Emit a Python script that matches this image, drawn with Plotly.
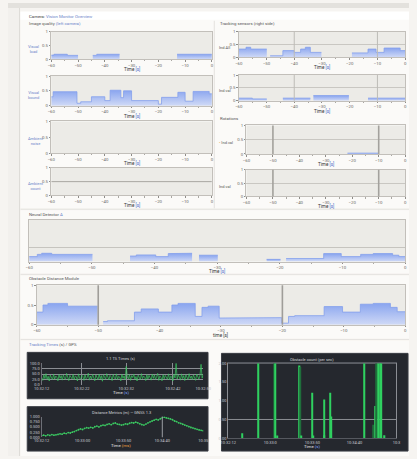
import plotly.graph_objects as go

W, H = 417, 459
FONT = "Roboto"

# ---------------- data ----------------
TIME_RANGE = [-60, 0]

L1_EDGES = [-60, -59, -54, -50, -44.5, -43, -34.5, -13, 0]
L1_VALS = [0.15, 0.18, 0.14, None, 0.14, 0.18, None, 0.18]

L2_EDGES = [-60, -59.3, -50.4, -49, -45, -40, -38, -34, -33, -30, -20, -18.8, -12.7, -10, -7, -1, 0]
L2_VALS = [0.3, 0.47, 0.08, 0.13, 0.3, 0.17, 0.52, 0.27, 0.5, 0.17, 0.05, 0.28, 0.45, 0.15, 0.48, 0.4]

L4_EDGES = [-60, 0]
L4_VALS = [0.5]

R1_EDGES = [-60, -57.4, -55.7, -49.9, -48.7, -44.1, -40, -37.7, -36, -34.2, -30.2, -19.2, -13.4, -10.5, -7.6, -1.8, 0]
R1_VALS = [0.32, 0.39, 0.32, None, 0.06, 0.26, 0.19, 0.32, 0.39, 0.19, None, 0.17, 0.32, 0.19, 0.36, 0.26]

R2_EDGES = [-60, -55.1, -49.9, -44.1, -34.2, -33.1, -20.3, -13.4, 0]
R2_VALS = [0.1, 0.07, None, 0.1, None, 0.2, None, 0.1]

R3_EDGES = [-60, -21.8, -10, 0]
R3_VALS = [None, 0.03, None]

W1_EDGES = [-60, -58.7, -58, -56.4, -49.9, -43.9, -42.9, -39.8, -37.8, -35.7, -34, -32.9,
            -29.9, -22.1, -19.9, -19, -13, -10.2, -7.1, -5.1, -2, -1, 0]
W1_VALS = [0.18, 0.26, 0.30, 0.26, None, 0.2, 0.24, 0.18, 0.29, 0.30, None, 0.23,
           None, 0.08, None, 0.11, 0.29, 0.18, 0.26, 0.29, 0.23, 0.18]

W2_EDGES = [-60, -59, -58.2, -55, -50.1, -49.2, -48.5, -44.1, -43, -40.2, -38, -37, -34.2,
            -33.1, -32.1, -30.3, -21.4, -20.1, -19, -18, -13.2, -10.2, -7.3, -5.2, -2.4, -1.3, 0]
W2_VALS = [0.32, 0.5, 0.54, 0.47, None, 0.08, 0.1, 0.32, 0.4, 0.32, 0.5, 0.54, 0.21,
           0.44, 0.47, 0.17, 0.18, 0.04, 0.21, 0.23, 0.46, 0.32, 0.52, 0.54, 0.44, 0.33]

R1_MARKERS = [-40, -10]
R34_MARKERS = [-50, -10]
W2_MARKERS = [-50, -20]

D1_VALS = [34, 21, 47, 29, 52, 26, 40, 18, 45, 31, 24, 50, 27, 41, 36, 19, 48, 30, 43, 22,
           46, 33, 25, 53, 38, 20, 44, 35, 28, 49, 23, 42, 37, 18, 51, 30, 26, 45, 39, 21,
           47, 29, 34, 54, 22, 41, 27, 49, 32, 19, 46, 36, 24, 50, 28, 43, 17, 47, 35, 26,
           52, 31, 23, 44, 38, 20, 48, 33, 27, 51, 25, 40, 36, 19, 49, 30, 42, 24, 85, 37,
           28, 47, 21, 43, 34, 50, 26, 39, 18, 45, 32, 24, 52, 29, 41, 36, 20, 48, 27, 44,
           33, 22, 50, 30, 46, 25, 38, 53, 21, 42, 35, 19, 47, 28, 44, 31, 26, 51, 23, 40,
           37, 18, 49, 32, 100, 27, 45, 36, 22, 51, 29, 43, 20, 47, 34, 25, 52, 30, 41, 24,
           46, 33, 21, 50, 38, 27, 44, 95, 31, 48]
D1_TICK_POS = [0, 37, 78, 121, 149]
D1_TICK_TEXT = ["10:32:12", "10:32:22", "10:32:32", "10:32:42", "10:32:50"]
D1_Y_TICKS = [0, 25, 50, 75, 100]
D1_Y_TEXT = ["0.0", "25.0", "50.0", "75.0", "100.0"]

D2_VALS = [0.08, 0.10, 0.07, 0.12, 0.09, 0.13, 0.10, 0.12,
           0.14, 0.17, 0.15, 0.20, 0.18, 0.23, 0.21, 0.25,
           0.28, 0.33, 0.37, 0.41, 0.38, 0.44, 0.47, 0.45,
           0.49, 0.46, 0.52, 0.55, 0.51, 0.57, 0.60, 0.58,
           0.63, 0.66, 0.62, 0.68, 0.70, 0.65, 0.63, 0.60,
           0.62, 0.66, 0.64, 0.69, 0.72, 0.70, 0.74, 0.71,
           0.66, 0.62, 0.60, 0.65, 0.71, 0.76, 0.80, 0.84,
           0.88, 0.85, 0.91, 0.97, 0.99, 0.95, 0.93, 0.90,
           0.86, 0.80, 0.77, 0.71, 0.68, 0.64, 0.60, 0.56,
           0.52, 0.48, 0.45, 0.42, 0.39, 0.36, 0.34, 0.32]
D2_TICK_POS = [0, 20, 40, 59, 79]
D2_TICK_TEXT = ["10:32:12", "10:33:00", "10:33:50", "10:34:40", "10:35"]
D2_MARKER = 59
D2_Y_TICKS = [0, 0.25, 0.5, 0.75, 1]
D2_Y_TEXT = ["0.000", "0.250", "0.500", "0.750", "1.000"]

D3_T = [8.2, 18.1, 27.4, 28.2, 28.9, 42.5, 43.0, 43.6, 50.1, 50.6, 56.8, 57.2, 60.6, 61.1,
        81.1, 86.3, 87.2, 88.2, 89.1, 90.1, 90.7, 93.0]
D3_V = [0.13, 2.0, 2.0, 2.0, 0.07, 1.94, 1.9, 0.07, 1.21, 0.07, 1.03, 0.08, 1.21, 0.58,
        2.0, 0.36, 0.86, 2.0, 2.0, 2.0, 2.0, 0.08]
D3_BRIGHT = [1, 1, 0, 1, 1, 1, 0, 1, 1, 1, 1, 1, 1, 1,
             1, 0, 1, 0, 1, 1, 1, 1]
D3_TICK_POS = [0, 25, 50, 75, 100]
D3_TICK_TEXT = ["10:32:12", "10:33:0", "10:33:50", "10:34:40", "10:3"]
D3_Y_TICKS = [0, 0.5, 1, 1.5, 2]
D3_Y_TEXT = ["0.00", "0.50", "1.00", "1.50", "2.00"]
D3_GRID = [0.5, 2.0]


# ---------------- helpers ----------------
def dx(x0, x1):
    return [x0 / W, x1 / W]


def dy(y0, y1):
    return [1 - y1 / H, 1 - y0 / H]


def step_segments(edges, vals):
    """Split a step series into contiguous runs (gaps where value is None)."""
    runs, xs, ys = [], [], []
    for i, v in enumerate(vals):
        if v is None:
            if xs:
                runs.append((xs, ys))
            xs, ys = [], []
        else:
            xs += [edges[i], edges[i + 1]]
            ys += [v, v]
    if xs:
        runs.append((xs, ys))
    return runs


fig = go.Figure()
layout = {}
shapes = []
annotations = []
counter = [0]


def new_axes(xbox, ybox, xcfg, ycfg):
    counter[0] += 1
    n = counter[0]
    xs = "" if n == 1 else str(n)
    layout["xaxis" + xs] = dict(domain=dx(*xbox), anchor="y" + xs, **xcfg)
    layout["yaxis" + xs] = dict(domain=dy(*ybox), anchor="x" + xs, **ycfg)
    return "x" + xs, "y" + xs


def rect(x0, y0, x1, y1, fill, line=None, lw=0):
    shapes.append(dict(type="rect", xref="paper", yref="paper", layer="below",
                       x0=x0 / W, x1=x1 / W, y0=1 - y1 / H, y1=1 - y0 / H,
                       fillcolor=fill, line=dict(color=line or fill, width=lw)))


def pline(x0, y0, x1, y1, color, w=1):
    shapes.append(dict(type="line", xref="paper", yref="paper", layer="below",
                       x0=x0 / W, x1=x1 / W, y0=1 - y0 / H, y1=1 - y1 / H,
                       line=dict(color=color, width=w)))


def note(text, x, y, size=5, color="#444", xanchor="left", yanchor="middle", family=FONT):
    annotations.append(dict(text=text, x=x / W, y=1 - y / H, xref="paper", yref="paper",
                            showarrow=False, xanchor=xanchor, yanchor=yanchor,
                            font=dict(size=size, color=color, family=family)))


LINE_C = "#c2bfba"
TICK_FONT = dict(size=4.3, color="#6a6864", family=FONT)


def light_x():
    return dict(range=TIME_RANGE, tick0=-60, dtick=10, showgrid=False, zeroline=False,
                showline=True, linecolor=LINE_C, linewidth=1, mirror=True,
                ticks="outside", ticklen=1.5, tickwidth=0.8, tickcolor="#8e8c88",
                tickfont=TICK_FONT,
                minor=dict(ticks="outside", ticklen=1.2, dtick=5, tickcolor="#aaa8a3"),
                fixedrange=True)


def light_y(rng=(0, 1), show=True, grid=False):
    return dict(range=list(rng), tickvals=[0, 0.5, 1], ticktext=["0", "0.5", "1"],
                showgrid=grid, gridcolor="#c9c7c2", zeroline=False,
                showline=True, linecolor=LINE_C, linewidth=1, mirror=True,
                ticks="outside" if show else "", ticklen=1.5, tickwidth=0.8, tickcolor="#8e8c88",
                tickfont=TICK_FONT, showticklabels=show, fixedrange=True)


FILL_GRAD = dict(type="vertical", colorscale=[[0, "#cfd9f6"], [1, "#8aa5ef"]])


def area(xr, yr, edges, vals):
    for xs, ys in step_segments(edges, vals):
        fig.add_trace(go.Scatter(x=xs, y=ys, xaxis=xr, yaxis=yr, mode="lines",
                                 line=dict(color="#84a0ec", width=0.8),
                                 fill="tozeroy", fillgradient=FILL_GRAD,
                                 hoverinfo="skip", showlegend=False))


def vmark(xr, yr, xv, color, w):
    shapes.append(dict(type="line", xref=xr, yref=yr + " domain", x0=xv, x1=xv, y0=0, y1=1,
                       line=dict(color=color, width=w), layer="above"))


# ---------------- page background ----------------
rect(0, 0, W, 5, "#e3e1dd")
rect(0, 5, 12, H, "#f2f0ed")
rect(13, 8, W, 208, "#fbfaf8")
rect(13, 210, W, 274, "#fbfaf8")
rect(13, 276, W, 340, "#fbfaf8")
rect(13, 342, W, H, "#fbfaf8")
rect(13, 9, W, 17, "#ffffff")
pline(12, 5, 12, H, "#dddbd7")
pline(214.5, 18, 214.5, 208, "#e4e2de")
pline(13, 209, W, 209, "#e6e4e0")
pline(13, 275, W, 275, "#e6e4e0")
pline(13, 341, W, 341, "#e6e4e0")

note("Camera: <span style='color:#6b84c9'>Vision Monitor Overview</span>", 20, 13.5, 4.3, "#3a3a3a")
note("Image quality <span style='color:#6b84c9'>(left camera)</span>", 20, 21, 4.3, "#555")
note("Tracking sensors (right side)", 218, 21, 4.3, "#555")
note("Rotations", 218, 117, 4.3, "#555")
note("Neural Detector <span style='color:#6b84c9'>A</span>", 20, 214, 4.3, "#555")
note("Obstacle Distance Module", 20, 279, 4.3, "#555")
note("<span style='color:#6b84c9'>Tracking Times</span> (s) / GPS", 20, 346, 4.3, "#555")

PLOT_BG = "#ecebe7"
AX_TITLE = "Time <span style='color:#4a6cc7'>[s]</span>"

# ---------------- left column ----------------
left_boxes = [(29, 57), (74, 104), (120, 152), (167, 195)]
left_labels = ["Visual<br>load", "Visual<br>bound", "Ambient<br>noise", "Ambient<br>count"]
for i, (y0, y1) in enumerate(left_boxes):
    rect(45, y0, 212, y1, PLOT_BG)
    xr, yr = new_axes((45, 212), (y0, y1), light_x(), light_y())
    if i == 0:
        area(xr, yr, L1_EDGES, L1_VALS)
    elif i == 1:
        area(xr, yr, L2_EDGES, L2_VALS)
    elif i == 3:
        for xs, ys in step_segments(L4_EDGES, L4_VALS):
            fig.add_trace(go.Scatter(x=xs, y=ys, xaxis=xr, yaxis=yr, mode="lines",
                                     line=dict(color="#a8a6a2", width=1), hoverinfo="skip"))
    else:
        fig.add_trace(go.Scatter(x=[None], y=[None], xaxis=xr, yaxis=yr, hoverinfo="skip"))
    note(AX_TITLE, 128.5, y1 + 10, 4.6, "#333", "center")
    note(left_labels[i], 19, (y0 + y1) / 2 + 4, 4.0, "#6b84c9")

# ---------------- right column ----------------
right_boxes = [(240, 29, 55), (240, 73, 99), (248, 124, 153), (248, 169, 196)]
right_labels = ["Ind.All", "Ind.val", "<span style='color:#e0a040'>•</span> Ind.val", "Ind.val"]
right_data = [(R1_EDGES, R1_VALS), (R2_EDGES, R2_VALS), (R3_EDGES, R3_VALS), None]
for i, (x0, y0, y1) in enumerate(right_boxes):
    rect(x0, y0, 413, y1, PLOT_BG)
    xr, yr = new_axes((x0, 413), (y0, y1), light_x(), light_y(grid=True))
    if right_data[i] is not None:
        area(xr, yr, *right_data[i])
    else:
        fig.add_trace(go.Scatter(x=[None], y=[None], xaxis=xr, yaxis=yr, hoverinfo="skip"))
    if i < 2:
        for m in R1_MARKERS:
            vmark(xr, yr, m, "#bdbbb6", 1)
    else:
        for m in R34_MARKERS:
            vmark(xr, yr, m, "#a3a19d", 1.6)
    note(AX_TITLE, (x0 + 413) / 2, y1 + 10, 4.6, "#333", "center")
    note(right_labels[i], 217, (y0 + y1) / 2 + 3, 4.0, "#555")

# ---------------- wide plot 1 ----------------
rect(22, 220, 413, 262, PLOT_BG)
wx = light_x()
wy = light_y(rng=(0, 1.5), show=False)
wy.update(tickvals=[0.5], ticktext=[""], showgrid=True, gridcolor="#c6c4bf")
xr, yr = new_axes((22, 413), (220, 262), wx, wy)
area(xr, yr, W1_EDGES, W1_VALS)
note(AX_TITLE, 217, 271.5, 4.6, "#333", "center")

# ---------------- wide plot 2 ----------------
rect(30, 286, 413, 326, PLOT_BG)
xr, yr = new_axes((30, 413), (286, 326), light_x(), light_y())
area(xr, yr, W2_EDGES, W2_VALS)
for m in W2_MARKERS:
    vmark(xr, yr, m, "#9f9d99", 1.6)
note("time [s]", 221, 336, 4.6, "#333", "center")

# ---------------- dark panels ----------------
DARK = "#25282e"
DARK_LINE = "#3a3d44"
DTICK = dict(size=4.0, color="#c7c9ce", family=FONT)
GRID_D = "#8b8e94"

rect(20, 354, 208, 401, DARK, DARK_LINE, 1)
rect(20, 409, 208, 454, DARK, DARK_LINE, 1)
rect(222, 355, 416, 454, DARK, DARK_LINE, 1)

# D1
xr, yr = new_axes((35, 203), (365, 387),
                  dict(range=[0, len(D1_VALS) - 1], tickvals=D1_TICK_POS, ticktext=D1_TICK_TEXT,
                       showgrid=True, gridcolor=GRID_D, gridwidth=0.8, zeroline=False,
                       showline=False, ticks="", tickfont=DTICK, fixedrange=True),
                  dict(range=[0, 100], tickvals=D1_Y_TICKS, ticktext=D1_Y_TEXT,
                       showgrid=True, gridcolor=GRID_D, gridwidth=0.8, zeroline=False,
                       showline=True, linecolor="#6d7077", ticks="", tickfont=DTICK, fixedrange=True))
fig.add_trace(go.Scatter(x=list(range(len(D1_VALS))), y=D1_VALS, xaxis=xr, yaxis=yr,
                         mode="lines", line=dict(color="#3cc862", width=0.7), hoverinfo="skip"))
note("1.1 TS Times (s)", 118, 360, 4.0, "#d0d2d6", "center")
note("Time <span style='color:#7fa3ff'>(s)</span>", 118, 395, 4.3, "#e8e8ea", "center")

# D2
xr, yr = new_axes((35, 203), (419, 440),
                  dict(range=[0, len(D2_VALS) - 1], tickvals=D2_TICK_POS, ticktext=D2_TICK_TEXT,
                       showgrid=False, zeroline=False, showline=False, ticks="",
                       tickfont=DTICK, fixedrange=True),
                  dict(range=[0, 1.02], tickvals=D2_Y_TICKS, ticktext=D2_Y_TEXT,
                       showgrid=False, zeroline=False, showline=True, linecolor="#6d7077",
                       ticks="", tickfont=DTICK, fixedrange=True))
fig.add_trace(go.Scatter(x=list(range(len(D2_VALS))), y=D2_VALS, xaxis=xr, yaxis=yr,
                         mode="lines+markers", line=dict(color="#2e9f50", width=0.7),
                         marker=dict(size=1.8, color="#3cc862"), hoverinfo="skip"))
vmark(xr, yr, D2_MARKER, "#9a9da3", 1)
note("Distance Metrics (m) — GNSS 1.3", 118, 415, 4.0, "#d0d2d6", "center")
note("Time <span style='color:#f0a040'>(ms)</span>", 118, 448, 4.3, "#e8e8ea", "center")

# D3
xr, yr = new_axes((229, 404), (365, 441),
                  dict(range=[0, 100], tickvals=D3_TICK_POS, ticktext=D3_TICK_TEXT,
                       showgrid=False, zeroline=False, showline=True, mirror=True,
                       linecolor="#55585f", ticks="", tickfont=DTICK, fixedrange=True),
                  dict(range=[0, 2], tickvals=D3_Y_TICKS, ticktext=D3_Y_TEXT,
                       showgrid=False, zeroline=False, showline=True, mirror=True,
                       linecolor="#8b8e94", ticks="", tickfont=DTICK, fixedrange=True))
fig.add_trace(go.Bar(x=D3_T, y=D3_V, xaxis=xr, yaxis=yr, width=0.7,
                     marker=dict(color=["#2fd160" if b else "#1f6e3b" for b in D3_BRIGHT],
                                 line=dict(width=0)), hoverinfo="skip"))
for g in D3_GRID:
    shapes.append(dict(type="line", xref=xr + " domain", yref=yr, x0=0, x1=1, y0=g, y1=g,
                       line=dict(color="#8b8e94", width=1), layer="below"))
note("Obstacle count (per sec)", 316, 361, 4.0, "#d0d2d6", "center")
note("Time <span style='color:#7fa3ff'>(s)</span>", 316, 449, 4.3, "#e8e8ea", "center")

layout.update(width=W, height=H, margin=dict(l=0, r=0, t=0, b=0, pad=0),
              paper_bgcolor="#f6f4f1", plot_bgcolor="rgba(0,0,0,0)",
              showlegend=False, shapes=shapes, annotations=annotations,
              font=dict(family=FONT, size=5))
fig.update_layout(**layout)
fig.write_html("out.html", config={"displayModeBar": False},
               post_script="document.body.style.margin='0';document.body.style.overflow='hidden';")
